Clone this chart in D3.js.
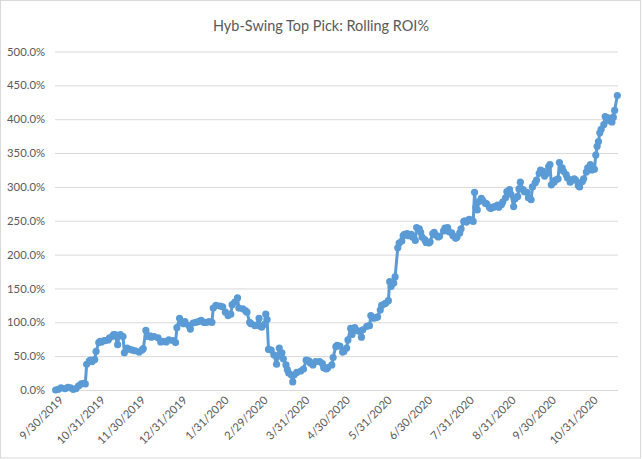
<!DOCTYPE html>
<html><head><meta charset="utf-8">
<script src="https://cdn.jsdelivr.net/npm/d3@7/dist/d3.min.js"></script>
<style>body{margin:0;background:#fff}svg{display:block}</style>
</head><body><svg id="c" width="642" height="459"></svg>
<script>
const title = "Hyb-Swing Top Pick: Rolling ROI%";
const dates = ["2019-09-27","2019-09-29","2019-10-01","2019-10-04","2019-10-06","2019-10-08","2019-10-10","2019-10-12","2019-10-14","2019-10-16","2019-10-18","2019-10-19","2019-10-20","2019-10-22","2019-10-23","2019-10-24","2019-10-26","2019-10-27","2019-10-29","2019-10-30","2019-10-31","2019-11-02","2019-11-03","2019-11-05","2019-11-06","2019-11-08","2019-11-09","2019-11-10","2019-11-12","2019-11-13","2019-11-14","2019-11-16","2019-11-17","2019-11-19","2019-11-21","2019-11-23","2019-11-25","2019-11-28","2019-11-30","2019-12-01","2019-12-03","2019-12-04","2019-12-06","2019-12-07","2019-12-09","2019-12-12","2019-12-14","2019-12-16","2019-12-18","2019-12-20","2019-12-23","2019-12-25","2019-12-26","2019-12-28","2019-12-29","2019-12-31","2020-01-01","2020-01-04","2020-01-05","2020-01-07","2020-01-09","2020-01-11","2020-01-13","2020-01-15","2020-01-17","2020-01-19","2020-01-21","2020-01-22","2020-01-24","2020-01-27","2020-01-29","2020-01-31","2020-02-02","2020-02-04","2020-02-05","2020-02-07","2020-02-09","2020-02-10","2020-02-13","2020-02-15","2020-02-16","2020-02-18","2020-02-19","2020-02-22","2020-02-23","2020-02-25","2020-02-26","2020-02-27","2020-02-29","2020-03-01","2020-03-02","2020-03-03","2020-03-05","2020-03-07","2020-03-09","2020-03-10","2020-03-11","2020-03-13","2020-03-14","2020-03-16","2020-03-17","2020-03-18","2020-03-20","2020-03-21","2020-03-22","2020-03-24","2020-03-27","2020-03-29","2020-03-31","2020-04-02","2020-04-03","2020-04-05","2020-04-07","2020-04-10","2020-04-12","2020-04-13","2020-04-15","2020-04-16","2020-04-19","2020-04-20","2020-04-22","2020-04-23","2020-04-25","2020-04-27","2020-04-28","2020-04-30","2020-05-01","2020-05-03","2020-05-04","2020-05-06","2020-05-07","2020-05-09","2020-05-11","2020-05-12","2020-05-15","2020-05-17","2020-05-18","2020-05-20","2020-05-22","2020-05-23","2020-05-25","2020-05-26","2020-05-28","2020-05-29","2020-05-31","2020-06-01","2020-06-02","2020-06-04","2020-06-05","2020-06-07","2020-06-08","2020-06-10","2020-06-11","2020-06-12","2020-06-14","2020-06-15","2020-06-17","2020-06-18","2020-06-20","2020-06-21","2020-06-23","2020-06-24","2020-06-25","2020-06-27","2020-06-28","2020-06-30","2020-07-01","2020-07-03","2020-07-04","2020-07-05","2020-07-07","2020-07-08","2020-07-11","2020-07-12","2020-07-14","2020-07-15","2020-07-17","2020-07-18","2020-07-20","2020-07-21","2020-07-23","2020-07-24","2020-07-26","2020-07-27","2020-07-28","2020-07-30","2020-07-31","2020-08-02","2020-08-03","2020-08-04","2020-08-05","2020-08-06","2020-08-08","2020-08-09","2020-08-11","2020-08-12","2020-08-14","2020-08-15","2020-08-17","2020-08-18","2020-08-20","2020-08-21","2020-08-23","2020-08-24","2020-08-26","2020-08-27","2020-08-29","2020-08-30","2020-09-01","2020-09-02","2020-09-04","2020-09-05","2020-09-06","2020-09-08","2020-09-09","2020-09-11","2020-09-12","2020-09-14","2020-09-15","2020-09-17","2020-09-18","2020-09-20","2020-09-21","2020-09-23","2020-09-24","2020-09-26","2020-09-27","2020-09-28","2020-09-29","2020-10-01","2020-10-02","2020-10-04","2020-10-05","2020-10-07","2020-10-08","2020-10-10","2020-10-11","2020-10-13","2020-10-14","2020-10-16","2020-10-17","2020-10-19","2020-10-20","2020-10-22","2020-10-23","2020-10-25","2020-10-26","2020-10-28","2020-10-29","2020-10-31","2020-11-01","2020-11-02","2020-11-03","2020-11-04","2020-11-05","2020-11-07","2020-11-08","2020-11-10","2020-11-11","2020-11-13","2020-11-14","2020-11-15","2020-11-17"];
const roi = [0,1,3,2,4,3,1,2,6,9,10,9,38,43,44,42,45,57,70,72,71,73,73,74,77,79,82,82,67,80,82,79,55,62,60,59,58,56,59,61,88,79,80,78,79,77,71,72,71,74,73,70,92,106,100,98,101,95,90,99,100,101,103,100,100,101,100,121,125,124,123,115,110,112,126,130,136,121,120,117,115,100,98,95,96,106,94,93,97,112,104,60,59,52,38,50,62,55,46,37,30,25,22,12,22,26,28,31,44,43,40,37,42,42,39,33,31,33,37,48,64,66,65,56,57,62,74,91,82,92,88,87,78,89,94,95,110,106,107,108,118,125,127,128,132,160,153,158,167,210,217,220,228,230,231,228,230,226,221,240,238,233,226,222,218,217,219,231,233,229,226,227,235,239,240,234,232,228,224,226,232,238,249,250,248,252,251,249,292,270,266,278,283,280,276,275,270,268,270,271,273,270,274,278,284,293,296,289,271,282,286,297,307,296,293,292,284,281,300,306,310,320,325,323,316,320,330,333,303,307,310,312,336,328,323,318,313,307,310,312,310,302,300,308,312,322,328,333,325,326,347,360,367,380,385,392,404,402,398,396,403,413,435];
const yTicks = [0,50,100,150,200,250,300,350,400,450,500];
const xTickDates = ["2019-09-30","2019-10-31","2019-11-30","2019-12-31","2020-01-31","2020-02-29","2020-03-31","2020-04-30","2020-05-31","2020-06-30","2020-07-31","2020-08-31","2020-09-30","2020-10-31"];

const parse = d3.timeParse("%Y-%m-%d");
const data = dates.map((d,i)=>({date:parse(d), v:roi[i]}));
const svg = d3.select("#c");
const font = "Lato, 'Liberation Sans', sans-serif";

svg.append("rect").attr("x",0.5).attr("y",0.5).attr("width",640).attr("height",457.5)
  .attr("fill","#fff").attr("stroke","#d9d9d9");

const L=55, R=618, T=51.5, B=390;
const x = d3.scaleTime().domain([new Date(2019,8,26,12), new Date(2020,10,17,12)]).range([L,R]);
const y = d3.scaleLinear().domain([0,500]).range([B,T]);

svg.append("text").attr("x",321).attr("y",31).attr("text-anchor","middle")
  .attr("font-family",font).attr("font-size","16px").attr("fill","#595959")
  .attr("textLength",216).attr("lengthAdjust","spacingAndGlyphs").text(title);

const yAxis = svg.append("g").attr("transform",`translate(${L},0)`)
  .call(d3.axisLeft(y).tickValues(yTicks).tickSize(-(R-L)).tickPadding(10).tickFormat(d=>d3.format(".1f")(d)+"%"));
yAxis.select(".domain").remove();
yAxis.selectAll(".tick line").attr("stroke","#d9d9d9").attr("stroke-width",1);
yAxis.selectAll(".tick text").attr("font-family",font).attr("font-size","11.3px").attr("fill","#595959");

const fmt = d3.timeFormat("%-m/%-d/%Y");
const xAxis = svg.append("g").attr("transform",`translate(0,${B})`)
  .call(d3.axisBottom(x).tickValues(xTickDates.map(parse)).tickSize(0).tickFormat(fmt));
xAxis.select(".domain").remove();
xAxis.selectAll(".tick text")
  .attr("font-family",font).attr("font-size","11.3px").attr("fill","#595959")
  .attr("text-anchor","end").attr("dy","0.35em")
  .attr("transform","translate(1,8) rotate(-45)").attr("y",0).attr("x",0);

const line = d3.line().x(d=>x(d.date)).y(d=>y(d.v));
svg.append("path").datum(data).attr("d",line).attr("fill","none")
  .attr("stroke","#5b9bd5").attr("stroke-width",3).attr("stroke-linejoin","round");
svg.append("g").selectAll("circle").data(data).join("circle")
  .attr("cx",d=>x(d.date)).attr("cy",d=>y(d.v)).attr("r",3.6).attr("fill","#5b9bd5");
</script></body></html>
